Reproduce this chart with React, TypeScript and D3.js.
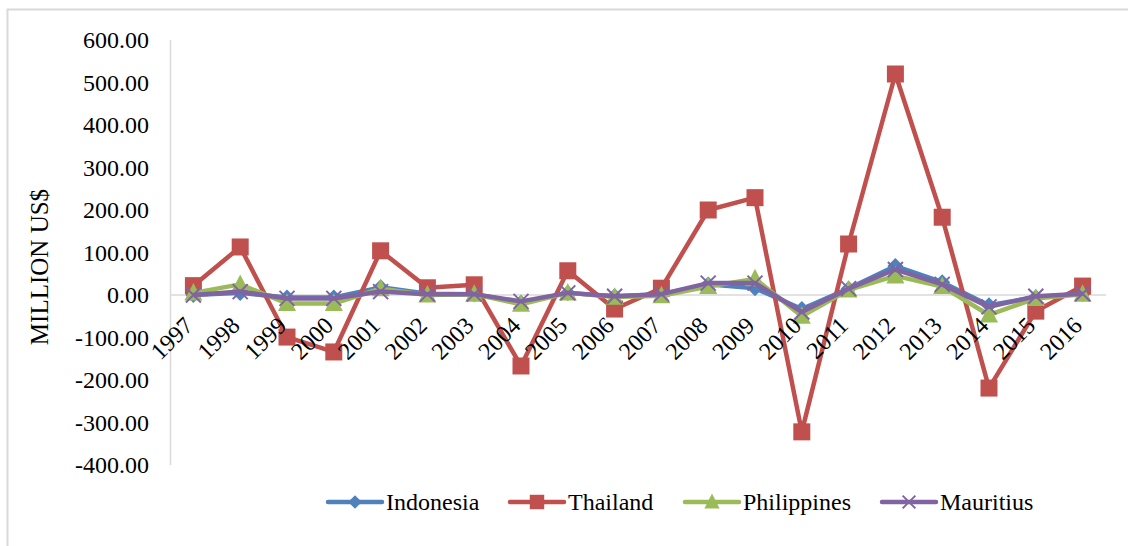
import React, { useEffect, useRef } from "react";
import * as d3 from "d3";

const years = [
  "1997", "1998", "1999", "2000", "2001", "2002", "2003", "2004", "2005", "2006",
  "2007", "2008", "2009", "2010", "2011", "2012", "2013", "2014", "2015", "2016",
];

const indonesia = [0, 5, -6, -6, 18, 3, 2, -18, 5, -3, 2, 25, 16, -33, 15, 68, 30, -24, -5, 3];
const thailand = [22, 113, -99, -134, 104, 17, 24, -167, 57, -33, 16, 200, 229, -322, 120, 520, 183, -219, -38, 21];
const philippines = [5, 25, -20, -20, 15, 0, 2, -22, 5, -5, -2, 20, 38, -50, 12, 45, 20, -47, -8, 2];
const mauritius = [0, 8, -8, -8, 8, 2, 2, -15, 5, -3, 2, 28, 28, -40, 15, 60, 25, -28, -3, 3];

const yTicks = [600, 500, 400, 300, 200, 100, 0, -100, -200, -300, -400];

const series = [
  { name: "Indonesia", values: indonesia, color: "#4F81BD", marker: "diamond" },
  { name: "Thailand", values: thailand, color: "#C0504D", marker: "square" },
  { name: "Philippines", values: philippines, color: "#9BBB59", marker: "triangle" },
  { name: "Mauritius", values: mauritius, color: "#8064A2", marker: "x" },
];

const legendX = [328, 510, 685, 882];

function drawMarker(g: any, type: string, color: string, k = 1) {
  if (type === "square") {
    g.append("rect").attr("x", -8.5 * k).attr("y", -8.5 * k).attr("width", 17 * k).attr("height", 17 * k).attr("fill", color);
  } else if (type === "diamond") {
    g.append("path").attr("d", `M0,${-8 * k}L${8 * k},0L0,${8 * k}L${-8 * k},0Z`).attr("fill", color);
  } else if (type === "triangle") {
    g.append("path").attr("d", `M0,${-10 * k}L${9 * k},${7.5 * k}L${-9 * k},${7.5 * k}Z`).attr("fill", color);
  } else {
    g.append("path")
      .attr("d", `M${-7.5 * k},${-7.5 * k}L${7.5 * k},${7.5 * k}M${-7.5 * k},${7.5 * k}L${7.5 * k},${-7.5 * k}`)
      .attr("stroke", color)
      .attr("stroke-width", 2)
      .attr("fill", "none");
  }
}

function Chart() {
  const ref = useRef<SVGSVGElement>(null);

  useEffect(() => {
    const width = 1128;
    const height = 546;
    const svg = d3.select(ref.current);
    svg.selectAll("*").remove();

    svg.append("rect").attr("width", width).attr("height", height).attr("fill", "#fff");
    svg
      .append("path")
      .attr("d", `M7.5,${height}V9.5H${width}`)
      .attr("fill", "none")
      .attr("stroke", "#D9D9D9")
      .attr("stroke-width", 2);

    const x = d3.scalePoint().domain(years).range([170, 1106]).padding(0.5);
    const y = d3.scaleLinear().domain([-400, 600]).range([465, 40]);

    // y axis line
    svg
      .append("line")
      .attr("x1", 170.5).attr("x2", 170.5)
      .attr("y1", y(600)).attr("y2", y(-400))
      .attr("stroke", "#D9D9D9").attr("stroke-width", 1.5);

    // zero line
    svg
      .append("line")
      .attr("x1", 170).attr("x2", 1106)
      .attr("y1", y(0)).attr("y2", y(0))
      .attr("stroke", "#D9D9D9").attr("stroke-width", 1.5);

    svg
      .append("g")
      .selectAll("text")
      .data(yTicks)
      .enter()
      .append("text")
      .attr("x", 149)
      .attr("y", (d) => y(d))
      .attr("dy", "0.35em")
      .attr("text-anchor", "end")
      .attr("font-size", 24)
      .attr("fill", "#000")
      .text((d) => d3.format(".2f")(d).replace("−", "-"));

    svg
      .append("text")
      .attr("transform", "translate(48,267) rotate(-90)")
      .attr("text-anchor", "middle")
      .attr("font-size", 25)
      .text("MILLION US$");

    const line = d3
      .line<number>()
      .x((d, i) => x(years[i]) as number)
      .y((d) => y(d));

    series.forEach((s) => {
      const g = svg.append("g");
      g.append("path")
        .attr("d", line(s.values))
        .attr("fill", "none")
        .attr("stroke", s.color)
        .attr("stroke-width", 4.5)
        .attr("stroke-linejoin", "round");
      s.values.forEach((v, i) => {
        const m = g.append("g").attr("transform", `translate(${x(years[i])},${y(v)})`);
        drawMarker(m, s.marker, s.color);
      });
    });

    // x labels
    svg
      .append("g")
      .selectAll("text")
      .data(years)
      .enter()
      .append("text")
      .attr("transform", (d) => `translate(${(x(d) as number) + 1},327) rotate(-45)`)
      .attr("text-anchor", "end")
      .attr("font-size", 24)
      .text((d) => d);

    // legend
    series.forEach((s, i) => {
      const lg = svg.append("g").attr("transform", `translate(${legendX[i]},502)`);
      lg.append("line")
        .attr("x1", 0).attr("x2", 54)
        .attr("stroke", s.color).attr("stroke-width", 4.5).attr("stroke-linecap", "round");
      const m = lg.append("g").attr("transform", "translate(27,0)");
      drawMarker(m, s.marker, s.color, 0.85);
      lg.append("text")
        .attr("x", 58)
        .attr("y", 0)
        .attr("dy", "0.33em")
        .attr("font-size", 24)
        .text(s.name);
    });
  }, []);

  return (
    <svg
      ref={ref}
      width={1128}
      height={546}
      style={{
        position: "absolute",
        left: 0,
        top: 0,
        display: "block",
        fontFamily: '"Liberation Serif", "Times New Roman", serif',
      }}
    />
  );
}

export default function App() {
  return <Chart />;
}
